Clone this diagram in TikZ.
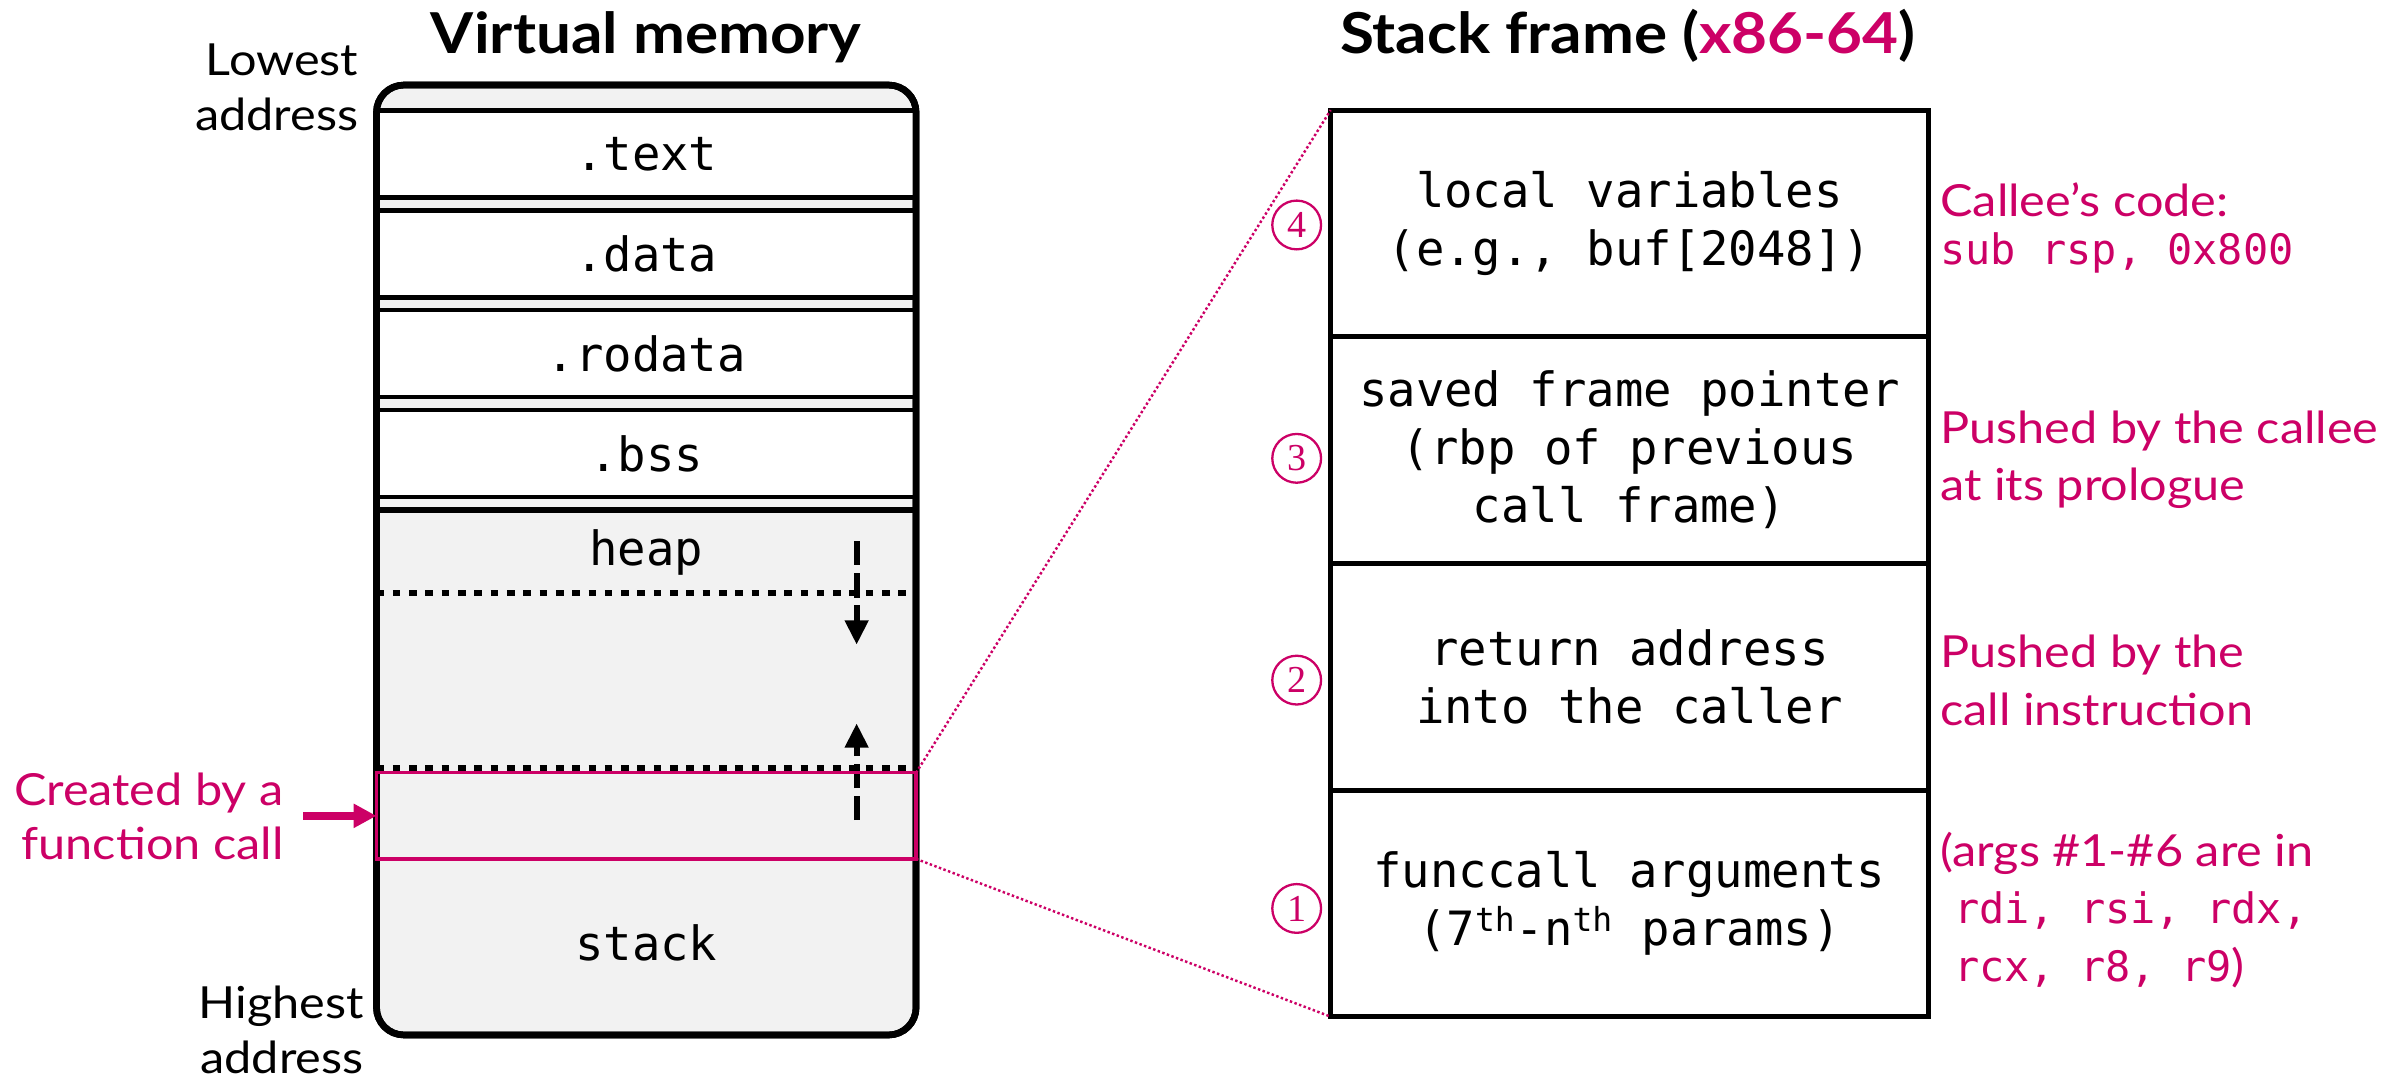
\documentclass[tikz,border=0pt]{standalone}
\usepackage{fontspec}
\setmainfont{Lato}[FakeStretch=1.1]
\setmonofont{DejaVu Sans Mono}
\newfontfamily\circfont{Liberation Serif}
\usetikzlibrary{arrows.meta}
\definecolor{accent}{RGB}{204,0,102}
\definecolor{shade}{RGB}{242,242,242}
\newcommand\titlefont{\bfseries\fontsize{37}{44}\selectfont}
\newcommand\sidefont{\fontsize{29}{36}\selectfont}
\newcommand\memfont{\ttfamily\fontsize{31}{38}\selectfont}
\newcommand\notefont{\color{accent}\fontsize{29}{37.5}\selectfont}
\newcommand\notemono{\ttfamily\fontsize{27.5}{37.5}\selectfont}
\newcommand\numfont{\circfont\fontsize{25}{25}\selectfont}
\begin{document}
\begin{tikzpicture}[x=1pt,y=-1pt,
  every node/.style={inner sep=0pt, outer sep=0pt},
  membox/.style={draw, fill=shade, line width=4.4pt, rounded corners=18pt,
    minimum width=354pt, minimum height=623.2pt},
  segbox/.style={draw, fill=white, line width=3pt, minimum width=354pt,
    minimum height=57pt, font=\memfont},
  stackbox/.style={draw, fill=white, line width=3.3pt, minimum width=392pt,
    minimum height=148.7pt, align=center, font=\memfont},
  callbox/.style={draw=accent, line width=2.2pt, minimum width=354pt, minimum height=56.5pt},
  numcirc/.style={circle, draw=accent, line width=1.5pt, minimum size=32pt,
    text=accent, font=\numfont},
  sidenote/.style={align=right, anchor=east, font=\sidefont},
  note/.style={align=left, anchor=west, font=\notefont},
  title/.style={anchor=base, font=\titlefont},
  divider/.style={line width=3.7pt},
  boundary/.style={line width=4.4pt, dash pattern=on 5pt off 5.7pt},
  growth/.style={line width=4pt, dash pattern=on 16pt off 5pt,
    -{Triangle[length=16pt,width=14.7pt]}},
  zoomline/.style={accent, line width=1.6pt, dash pattern=on 1.6pt off 1.6pt}
]
\fill[white] (0,0) rectangle (1568,709);
\useasboundingbox (0,0) rectangle (1568,709);

% titles
\node[title] (vmtitle) at (424,35) {Virtual memory};
\node[title] (sftitle) at (1068,35) {Stack frame (\textcolor{accent}{x86-64})};

% virtual memory layout
\node[membox] (mem) at (424,367.4) {};
\node[segbox] (text)   at (424,101)   {.text};
\node[segbox] (data)   at (424,166.5) {.data};
\node[segbox] (rodata) at (424,232)   {.rodata};
\node[segbox] (bss)    at (424,297.5) {.bss};
\draw[divider] (247,334.6) -- (601,334.6);
\node[font=\memfont] (heap) at (424,362.6) {heap};
\node[font=\memfont] (stack) at (424,618.8) {stack};
\draw[boundary] (247,389) -- (601,389);
\draw[boundary] (247,504) -- (601,504);
\draw[line width=4.4pt, rounded corners=18pt] (mem.north west) rectangle (mem.south east);

% growth directions
\coordinate (heapfrom) at (562,355);
\coordinate (heapto) at (562,423);
\coordinate (stackfrom) at (562,538);
\coordinate (stackto) at (562,474.5);
\draw[growth] (heapfrom) -- (heapto);
\draw[growth] (stackfrom) -- (stackto);

% the new frame
\node[callbox] (newframe) at (424,535.25) {};
\coordinate (calltail) at (199,535.25);
\draw[accent, line width=5pt, -{Triangle[length=15pt,width=15pt]}] (calltail) -- (newframe.west);
\node[sidenote, text=accent] (created) at (186,535.6) {Created by a\\function call};

\node[sidenote] (lowest) at (235,57.4) {Lowest\\address};
\node[sidenote] (highest) at (238.5,675.5) {Highest\\address};

% stack frame detail
\node[stackbox] (f4) at (1069,146.55) {local variables\\(e.g., buf[2048])};
\node[stackbox] (f3) at (1069,295.25) {saved frame pointer\\(rbp of previous\\call frame)};
\node[stackbox] (f2) at (1069,443.95) {return address\\into the caller};
\node[stackbox] (f1) at (1069,592.65) {funccall arguments\\(7\textsuperscript{th}-n\textsuperscript{th} params)};

\draw[zoomline] (newframe.north east) -- (f4.north west);
\draw[zoomline] (newframe.south east) -- (f1.south west);

\node[numcirc] (n4) at (850.7,147.6) {4};
\node[numcirc] (n3) at (850.7,300.7) {3};
\node[numcirc] (n2) at (850.7,446.2) {2};
\node[numcirc] (n1) at (850.7,596) {1};

% annotations
\node[note, font=\color{accent}\fontsize{29}{32}\selectfont] (c4) at (1273,149.5)
  {Callee’s code:\\{\notemono sub rsp, 0x800}};
\node[note] (c3) at (1273,301.7) {Pushed by the callee\\at its prologue};
\node[note] (c2) at (1273,446.4) {Pushed by the\\call instruction};
\node[note] (c1) at (1273,597)
  {(args \#1-\#6 are in\\\hspace*{9pt}{\notemono rdi, rsi, rdx,}\\\hspace*{9pt}{\notemono rcx, r8, r9})};
\end{tikzpicture}
\end{document}
